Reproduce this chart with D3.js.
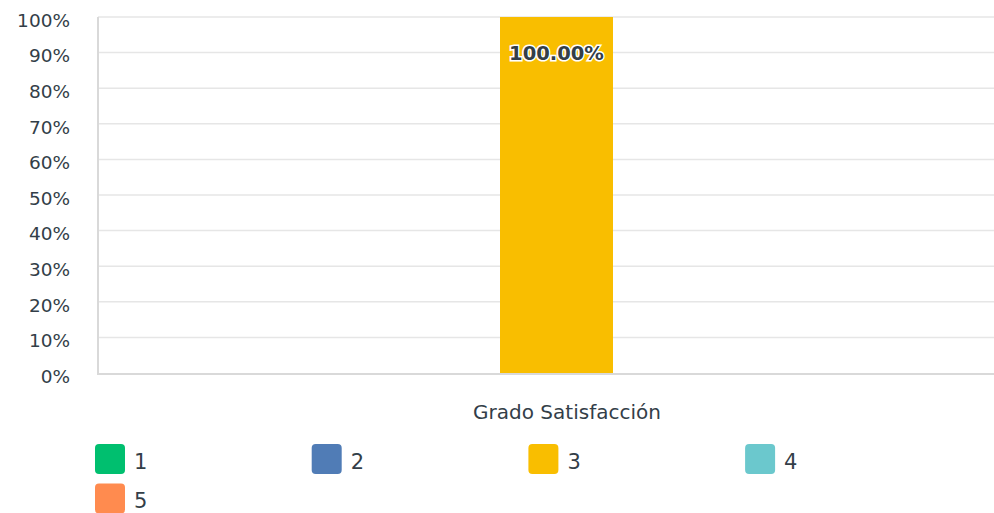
<!DOCTYPE html>
<html>
<head>
<meta charset="utf-8">
<script src="https://cdn.jsdelivr.net/npm/d3@7"></script>
<style>
  body { margin: 0; background: #fff; font-family: "DejaVu Sans", sans-serif; }
  svg { display: block; }
  .tick text { fill: #333e48; font-size: 18.5px; }
</style>
</head>
<body>
<div id="chart"><svg></svg></div>
<script>
var category = "Grado Satisfacción";
var series = ["1", "2", "3", "4", "5"];
var values = [0, 0, 1, 0, 0];
var colors = ["#00bf6f", "#507cb6", "#f9be00", "#6bc8cd", "#ff8b4f"];
var yTicks = [0, 0.1, 0.2, 0.3, 0.4, 0.5, 0.6, 0.7, 0.8, 0.9, 1];

var width = 994, height = 513;
var margin = { top: 17, left: 98, bottom: 140 };

var svg = d3.select("#chart svg").attr("width", width).attr("height", height);

var y = d3.scaleLinear().domain([0, 1]).range([373, margin.top]);
// series bands inside the single category group
var x = d3.scaleBand().domain(series).range([274, 839]).padding(0);

// gridlines
svg.append("g")
  .selectAll("line")
  .data(yTicks.slice(1))
  .enter().append("line")
    .attr("x1", margin.left).attr("x2", width)
    .attr("y1", function(d) { return y(d); })
    .attr("y2", function(d) { return y(d); })
    .style("stroke", "#e6e6e6")
    .style("stroke-width", 1.5);

// y axis labels
var yAxis = svg.append("g")
  .attr("transform", "translate(" + margin.left + ",0)")
  .call(d3.axisLeft(y).tickValues(yTicks).tickFormat(d3.format(".0%")).tickSize(0).tickPadding(28));
yAxis.select(".domain").remove();
yAxis.selectAll(".tick text").attr("dy", "0.5em").style("font-family", "'DejaVu Sans', sans-serif");

// bars
svg.append("g")
  .selectAll("rect")
  .data(values)
  .enter().append("rect")
    .attr("x", function(d, i) { return x(series[i]); })
    .attr("width", x.bandwidth())
    .attr("y", function(d) { return y(d); })
    .attr("height", function(d) { return y(0) - y(d); })
    .style("fill", function(d, i) { return colors[i]; });

// axis lines
svg.append("line")
  .attr("x1", margin.left).attr("x2", margin.left)
  .attr("y1", margin.top).attr("y2", y(0) + 1)
  .style("stroke", "#d9d9d9").style("stroke-width", 2);
svg.append("line")
  .attr("x1", margin.left - 1).attr("x2", width)
  .attr("y1", y(0) + 1).attr("y2", y(0) + 1)
  .style("stroke", "#d9d9d9").style("stroke-width", 2);

// value labels
svg.append("g")
  .selectAll("text")
  .data(values.filter(function(d) { return d > 0; }).map(function(d) { return { v: d, i: values.indexOf(d) }; }))
  .enter().append("text")
    .attr("x", function(d) { return x(series[d.i]) + x.bandwidth() / 2; })
    .attr("y", function(d) { return y(d.v) + 43; })
    .attr("text-anchor", "middle")
    .style("font-family", "'DejaVu Sans', sans-serif")
    .style("font-weight", "bold")
    .style("font-size", "19.5px")
    .style("fill", "#333e48")
    .style("stroke", "#fff")
    .style("stroke-width", 3)
    .style("paint-order", "stroke")
    .text(function(d) { return d3.format(".2%")(d.v); });

// category label
svg.append("text")
  .attr("x", 567)
  .attr("y", 419)
  .attr("text-anchor", "middle")
  .style("font-size", "20px")
  .style("fill", "#333e48")
  .text(category);

// legend
var legend = svg.append("g")
  .selectAll("g")
  .data(series)
  .enter().append("g")
    .attr("transform", function(d, i) {
      return "translate(" + (95 + (i % 4) * 216.7) + "," + (444 + Math.floor(i / 4) * 39.5) + ")";
    });
legend.append("rect")
  .attr("width", 30).attr("height", 30)
  .attr("rx", 4)
  .style("fill", function(d, i) { return colors[i]; });
legend.append("text")
  .attr("x", 39).attr("y", 24.5)
  .style("font-size", "21px")
  .style("fill", "#333e48")
  .text(function(d) { return d; });
</script>
</body>
</html>
